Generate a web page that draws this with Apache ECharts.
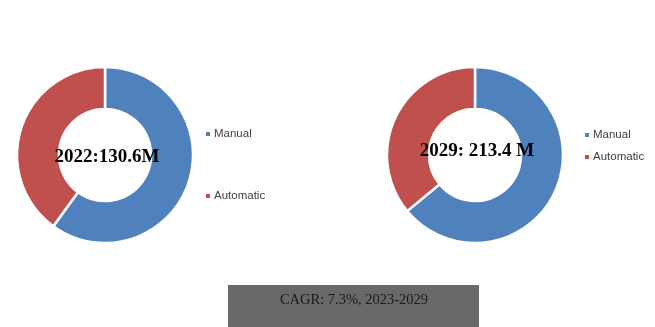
<!DOCTYPE html>
<html><head><meta charset="utf-8">
<script src="https://cdn.jsdelivr.net/npm/echarts@6/dist/echarts.min.js"></script>
<style>html,body{margin:0;padding:0;background:#fff}#c{width:655px;height:327px}</style>
</head><body><div id="c"></div>
<script>
const categories = ['Manual', 'Automatic'];
const values2022 = [60, 40];
const values2029 = [64, 36];
const label2022 = '2022:130.6M';
const label2029 = '2029: 213.4 M';
const cagrText = 'CAGR: 7.3%, 2023-2029';
const colors = ['#4F81BD', '#C0504D'];

const chart = echarts.init(document.getElementById('c'), null, {renderer: 'canvas'});
function pieData(vals){ return categories.map((n,i)=>({name:n, value:vals[i]})); }
const legendCommon = {
  orient: 'vertical', icon: 'rect', itemWidth: 6, itemHeight: 6, padding: 0,
  textStyle: {fontFamily: 'Liberation Sans, Arial, sans-serif', fontSize: 11.5, color: '#404040', padding:[0,0,0,-2]},
  selectedMode: false
};
chart.setOption({
  animation: false,
  color: colors,
  legend: [
    Object.assign({}, legendCommon, {data: categories, left: 204, top: 128, itemGap: 50}),
    Object.assign({}, legendCommon, {data: categories, left: 583, top: 129, itemGap: 10})
  ],
  series: [
    {type: 'pie', center: [105, 155], radius: [46, 88], startAngle: 90, clockwise: true,
     label: {show: false}, labelLine: {show: false}, emphasis: {disabled: true},
     itemStyle: {borderColor: '#fff', borderWidth: 2.5},
     data: pieData(values2022)},
    {type: 'pie', center: [475, 155], radius: [46, 88], startAngle: 90, clockwise: true,
     label: {show: false}, labelLine: {show: false}, emphasis: {disabled: true},
     itemStyle: {borderColor: '#fff', borderWidth: 2.5},
     data: pieData(values2029)}
  ],
  graphic: [
    {type: 'text', z: 100, style: {text: label2022, x: 107, y: 157, align: 'center', verticalAlign: 'middle',
      font: 'bold 19px "Liberation Serif", "DejaVu Serif", serif', fill: '#000'}},
    {type: 'text', z: 100, style: {text: label2029, x: 477, y: 151, align: 'center', verticalAlign: 'middle',
      font: 'bold 19px "Liberation Serif", "DejaVu Serif", serif', fill: '#000'}},
    {type: 'rect', z: 100, shape: {x: 228, y: 285, width: 251, height: 42}, style: {fill: '#696969'}},
    {type: 'text', z: 101, style: {text: cagrText, x: 354, y: 300, align: 'center', verticalAlign: 'middle',
      font: '14.5px "Liberation Serif", "DejaVu Serif", serif', fill: '#1a1a1a'}}
  ]
});
</script></body></html>
